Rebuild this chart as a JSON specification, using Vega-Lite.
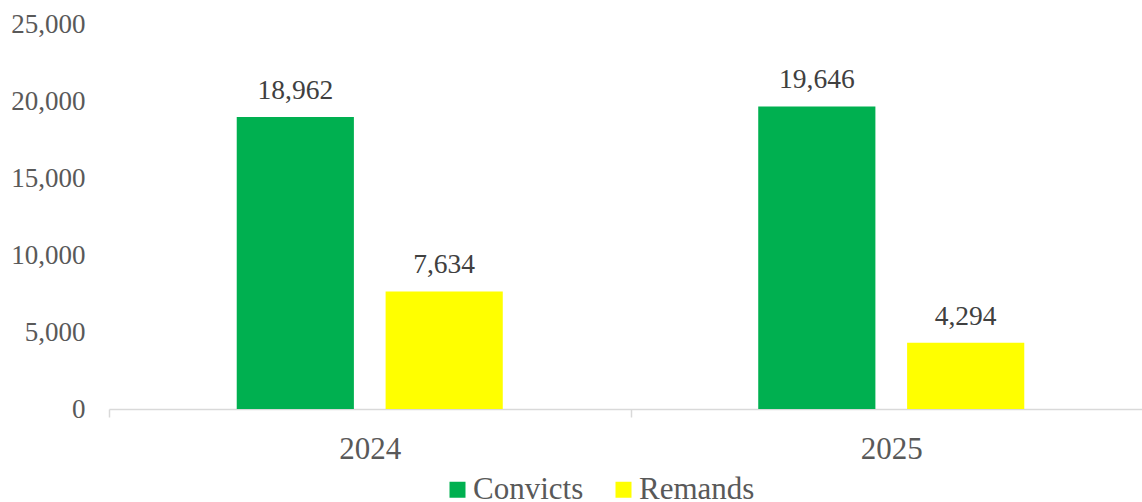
{
  "$schema": "https://vega.github.io/schema/vega-lite/v6.json",
  "autosize": "none",
  "width": 1043,
  "height": 385,
  "padding": {"left": 109, "top": 24, "right": 0, "bottom": 93},
  "background": "white",
  "config": {
    "view": {"stroke": null},
    "font": "Liberation Serif, Times New Roman, DejaVu Serif, serif"
  },
  "data": {
    "values": [
      {"year": "2024", "type": "Convicts", "count": 18962},
      {"year": "2024", "type": "Remands", "count": 7634},
      {"year": "2025", "type": "Convicts", "count": 19646},
      {"year": "2025", "type": "Remands", "count": 4294}
    ]
  },
  "encoding": {
    "x": {
      "field": "year",
      "type": "nominal",
      "scale": {"paddingInner": 0, "paddingOuter": 0},
      "axis": {
        "title": null,
        "labelAngle": 0,
        "labelFont": "Liberation Serif, Times New Roman, DejaVu Serif, serif",
        "labelFontSize": 31,
        "labelColor": "#595959",
        "labelBaseline": "alphabetic",
        "labelPadding": 41,
        "tickBand": "extent",
        "tickSize": 8,
        "tickColor": "#D9D9D9",
        "tickWidth": 1.5,
        "domainColor": "#D9D9D9",
        "domainWidth": 1.5,
        "grid": false
      }
    },
    "xOffset": {
      "field": "type",
      "type": "nominal",
      "sort": ["Convicts", "Remands"],
      "scale": {"paddingInner": 0.213, "paddingOuter": 0.858}
    },
    "y": {
      "field": "count",
      "type": "quantitative",
      "scale": {"domain": [0, 25000], "nice": false},
      "axis": {
        "title": null,
        "values": [0, 5000, 10000, 15000, 20000, 25000],
        "labelExpr": "format(datum.value, ',.0f')",
        "labelFont": "Liberation Serif, Times New Roman, DejaVu Serif, serif",
        "labelFontSize": 27,
        "labelColor": "#595959",
        "labelPadding": 24,
        "ticks": false,
        "tickSize": 0,
        "domain": false,
        "grid": false
      }
    }
  },
  "layer": [
    {
      "mark": {"type": "bar"},
      "encoding": {
        "color": {
          "field": "type",
          "type": "nominal",
          "sort": ["Convicts", "Remands"],
          "scale": {"domain": ["Convicts", "Remands"], "range": ["#00B050", "#FFFF00"]},
          "legend": {
            "title": null,
            "orient": "none",
            "direction": "horizontal",
            "legendX": 333,
            "legendY": 450,
            "symbolType": "square",
            "symbolSize": 256,
            "symbolStrokeWidth": 0,
            "labelFont": "Liberation Serif, Times New Roman, DejaVu Serif, serif",
            "labelFontSize": 31,
            "labelColor": "#595959",
            "labelOffset": 0,
            "columnPadding": 24
          }
        }
      }
    },
    {
      "mark": {
        "type": "text",
        "baseline": "alphabetic",
        "dy": -18,
        "font": "Liberation Serif, Times New Roman, DejaVu Serif, serif",
        "fontSize": 27.5,
        "color": "#404040"
      },
      "encoding": {
        "text": {"field": "count", "type": "quantitative", "format": ","}
      }
    }
  ]
}
